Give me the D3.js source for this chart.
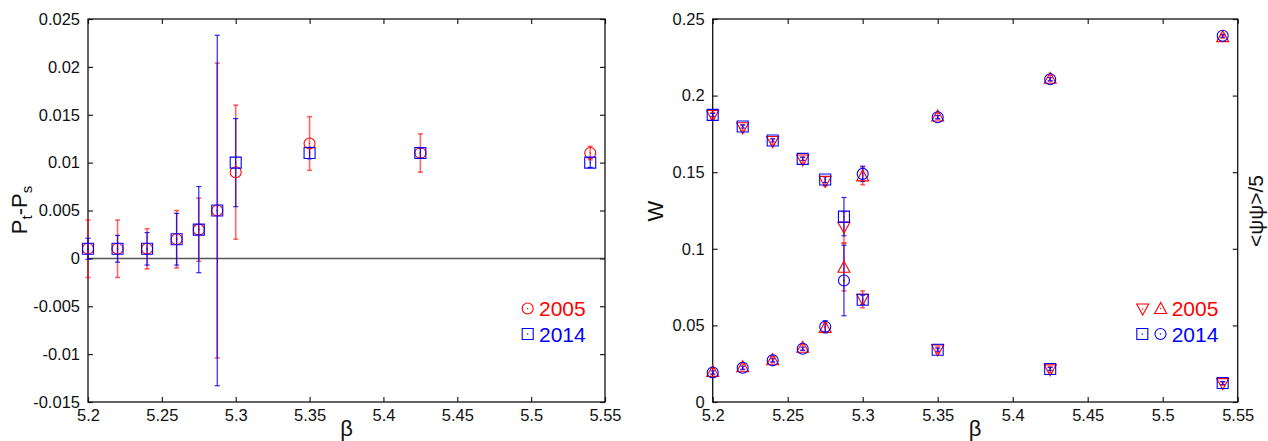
<!DOCTYPE html>
<html>
<head>
	<script src="https://cdn.jsdelivr.net/npm/d3@7/dist/d3.min.js"></script>
	<style>
		html, body { padding: 0; margin: 0; background: #fff; }
		text { font-family: "Liberation Sans", Arial, sans-serif; }
	</style>
</head>
<body>
	<script>
		// beta values shared by both panels
		var betas = [5.2, 5.22, 5.24, 5.26, 5.275, 5.2875, 5.3, 5.35, 5.425, 5.54];

		// left panel: Pt - Ps
		var diff2005    = [0.001, 0.001, 0.001, 0.002, 0.003, 0.005, 0.009, 0.012, 0.011, 0.011];
		var diff2005Err = [0.003, 0.003, 0.0021, 0.003, 0.0033, 0.0154, 0.007, 0.0028, 0.002, 0.0007];
		var diff2014    = [0.001, 0.001, 0.001, 0.002, 0.003, 0.005, 0.010, 0.011, 0.011, 0.010];
		var diff2014Err = [0.0011, 0.0014, 0.0017, 0.0027, 0.0045, 0.0183, 0.0046, 0.0006, 0.0005, 0.0005];

		// right panel: W (triangles down / squares) and <psi psi>/5 (triangles up / circles)
		var w2005      = [0.187, 0.179, 0.170, 0.158, 0.144, 0.114, 0.067, 0.034, 0.021, 0.012];
		var w2005Err   = [0.002, 0.002, 0.002, 0.002, 0.003, 0.0102, 0.0055, 0.002, 0.002, 0.001];
		var psi2005    = [0.020, 0.023, 0.0276, 0.0357, 0.0487, 0.088, 0.1476, 0.1867, 0.2113, 0.2385];
		var psi2005Err = [0.002, 0.002, 0.002, 0.002, 0.003, 0.0155, 0.0058, 0.002, 0.002, 0.001];
		var w2014      = [0.1874, 0.1798, 0.1707, 0.1587, 0.1452, 0.121, 0.0667, 0.0341, 0.0215, 0.0124];
		var w2014Err   = [0.001, 0.001, 0.001, 0.001, 0.002, 0.0125, 0.003, 0.001, 0.001, 0.001];
		var psi2014    = [0.0193, 0.0224, 0.0272, 0.0348, 0.0491, 0.0793, 0.1489, 0.1859, 0.2107, 0.2391];
		var psi2014Err = [0.001, 0.001, 0.001, 0.001, 0.004, 0.023, 0.005, 0.001, 0.001, 0.001];

		var xTicks = [5.2, 5.25, 5.3, 5.35, 5.4, 5.45, 5.5, 5.55];
		var leftYTicks = [-0.015, -0.01, -0.005, 0, 0.005, 0.01, 0.015, 0.02, 0.025];
		var rightYTicks = [0, 0.05, 0.1, 0.15, 0.2, 0.25];

		var red = '#ff0000', blue = '#0000ff';

		var svg = d3.select('body').append('svg')
			.attr('width', 1268)
			.attr('height', 441)
			.style('background-color', '#ffffff');

		var fmt = function (d) { return String(+d.toFixed(3)); };

		// frame with inward ticks on all four sides
		function drawFrame(x, y, yTicks) {
			var g = svg.append('g');
			var x0 = x.range()[0], x1 = x.range()[1];
			var y0 = y.range()[0], y1 = y.range()[1];

			g.append('g').attr('transform', 'translate(0,' + y0 + ')')
				.call(d3.axisBottom(x).tickValues(xTicks).tickFormat(fmt).tickSizeInner(-5).tickSizeOuter(0).tickPadding(7));
			g.append('g').attr('transform', 'translate(0,' + y1 + ')')
				.call(d3.axisTop(x).tickValues(xTicks).tickFormat('').tickSizeInner(-5).tickSizeOuter(0));
			g.append('g').attr('transform', 'translate(' + x0 + ',0)')
				.call(d3.axisLeft(y).tickValues(yTicks).tickFormat(fmt).tickSizeInner(-5).tickSizeOuter(0).tickPadding(8));
			g.append('g').attr('transform', 'translate(' + x1 + ',0)')
				.call(d3.axisRight(y).tickValues(yTicks).tickFormat('').tickSizeInner(-5).tickSizeOuter(0));

			g.selectAll('.domain').remove();
			g.selectAll('.tick line').attr('stroke', '#222').attr('stroke-width', 1.2);
			g.selectAll('.tick text').attr('font-size', 16.5).attr('fill', '#111')
				.style('font-family', '"Liberation Sans", Arial, sans-serif');

			g.append('rect')
				.attr('x', x0).attr('y', y1)
				.attr('width', x1 - x0).attr('height', y0 - y1)
				.attr('fill', 'none').attr('stroke', '#111').attr('stroke-width', 1.3);
		}

		function errorBars(x, y, vals, errs, color, op, w) {
			var g = svg.append('g')
				.attr('stroke', color).attr('stroke-opacity', op).attr('stroke-width', w);
			betas.forEach(function (b, i) {
				var cx = x(b), top = y(vals[i] + errs[i]), bot = y(vals[i] - errs[i]);
				g.append('line').attr('x1', cx).attr('x2', cx).attr('y1', top).attr('y2', bot);
				g.append('line').attr('x1', cx - 2.5).attr('x2', cx + 2.5).attr('y1', top).attr('y2', top);
				g.append('line').attr('x1', cx - 2.5).attr('x2', cx + 2.5).attr('y1', bot).attr('y2', bot);
			});
		}

		var shapes = {
			circle: 'M5.5,0A5.5,5.5 0 1,1 -5.5,0A5.5,5.5 0 1,1 5.5,0Z',
			square: 'M-5.5,-5.5H5.5V5.5H-5.5Z',
			up: 'M0,-6L6,5H-6Z',
			down: 'M0,6L6,-5H-6Z'
		};

		function marker(g, cx, cy, shape, color) {
			g.append('path')
				.attr('d', shapes[shape])
				.attr('transform', 'translate(' + cx + ',' + cy + ')')
				.attr('fill', 'none').attr('stroke', color).attr('stroke-width', 1.1);
			g.append('circle').attr('cx', cx).attr('cy', cy).attr('r', 0.7).attr('fill', color);
		}

		function markers(x, y, vals, shape, color) {
			var g = svg.append('g');
			betas.forEach(function (b, i) { marker(g, x(b), y(vals[i]), shape, color); });
		}

		function legendRow(syms, color, label, tx, ty) {
			var g = svg.append('g');
			syms.forEach(function (s) { marker(g, s[0], s[1], s[2], color); });
			g.append('text').attr('x', tx).attr('y', ty)
				.attr('font-size', 21).attr('fill', color).text(label);
		}

		// ---------- left panel ----------
		var xL = d3.scaleLinear().domain([5.2, 5.55]).range([88, 605]);
		var yL = d3.scaleLinear().domain([-0.015, 0.025]).range([402, 19]);

		svg.append('line')
			.attr('x1', xL(5.2)).attr('x2', xL(5.55))
			.attr('y1', yL(0)).attr('y2', yL(0))
			.attr('stroke', '#555').attr('stroke-width', 1.5);

		drawFrame(xL, yL, leftYTicks);
		errorBars(xL, yL, diff2005, diff2005Err, red, 0.6, 1.6);
		errorBars(xL, yL, diff2014, diff2014Err, blue, 0.85, 1.2);
		markers(xL, yL, diff2005, 'circle', red);
		markers(xL, yL, diff2014, 'square', blue);

		var lblL = svg.append('text')
			.attr('transform', 'translate(27,210) rotate(-90)')
			.attr('text-anchor', 'middle')
			.attr('font-size', 22).attr('fill', '#111');
		lblL.append('tspan').text('P');
		lblL.append('tspan').attr('font-size', 15).attr('dy', 5).text('t');
		lblL.append('tspan').attr('dy', -5).text('-P');
		lblL.append('tspan').attr('font-size', 15).attr('dy', 5).text('s');

		svg.append('text').attr('x', (88 + 605) / 2).attr('y', 436)
			.attr('text-anchor', 'middle').attr('font-size', 22).attr('fill', '#111').text('β');

		legendRow([[527.7, 308.5, 'circle']], red, '2005', 539, 316);
		legendRow([[527.7, 334, 'square']], blue, '2014', 539, 341.5);

		// ---------- right panel ----------
		var xR = d3.scaleLinear().domain([5.2, 5.55]).range([712.7, 1237.7]);
		var yR = d3.scaleLinear().domain([0, 0.25]).range([402, 19]);

		drawFrame(xR, yR, rightYTicks);
		errorBars(xR, yR, w2005, w2005Err, red, 0.6, 1.6);
		errorBars(xR, yR, psi2005, psi2005Err, red, 0.6, 1.6);
		errorBars(xR, yR, w2014, w2014Err, blue, 0.85, 1.2);
		errorBars(xR, yR, psi2014, psi2014Err, blue, 0.85, 1.2);
		markers(xR, yR, w2005, 'down', red);
		markers(xR, yR, psi2005, 'up', red);
		markers(xR, yR, w2014, 'square', blue);
		markers(xR, yR, psi2014, 'circle', blue);

		svg.append('text')
			.attr('transform', 'translate(663,211) rotate(-90)')
			.attr('text-anchor', 'middle').attr('font-size', 22).attr('fill', '#111').text('W');

		svg.append('text')
			.attr('transform', 'translate(1263,211) rotate(-90)')
			.attr('text-anchor', 'middle').attr('font-size', 21).attr('fill', '#111').text('<ψψ>/5');

		svg.append('text').attr('x', (712.7 + 1237.7) / 2).attr('y', 436)
			.attr('text-anchor', 'middle').attr('font-size', 22).attr('fill', '#111').text('β');

		legendRow([[1142.7, 309, 'down'], [1160.7, 308.5, 'up']], red, '2005', 1171.7, 316);
		legendRow([[1142.3, 334, 'square'], [1160.5, 334, 'circle']], blue, '2014', 1171.7, 341.5);
	</script>
</body>
</html>
